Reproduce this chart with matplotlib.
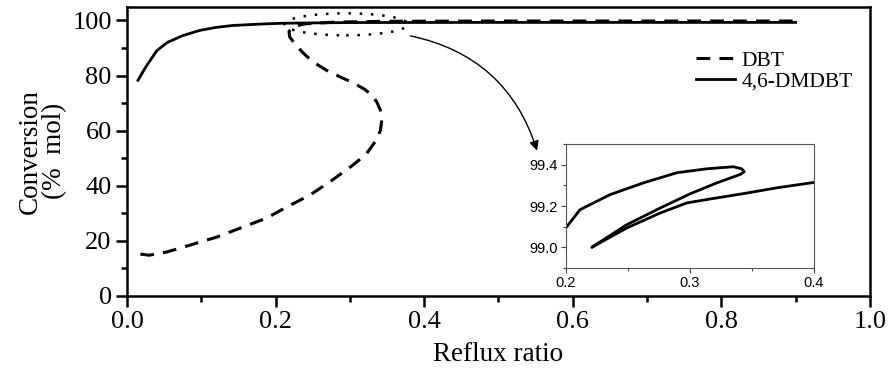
import matplotlib
matplotlib.use('Agg')
import matplotlib.pyplot as plt
from matplotlib.patches import Ellipse
from matplotlib.ticker import MultipleLocator, FormatStrFormatter

# 数据：从原图读取
dbt_x = [0.018, 0.03, 0.054, 0.089, 0.121, 0.152, 0.188, 0.215, 0.246, 0.276,
         0.304, 0.322, 0.334, 0.341, 0.343, 0.341, 0.336, 0.330, 0.320, 0.305,
         0.287, 0.268, 0.250, 0.236, 0.226, 0.219, 0.218, 0.224, 0.240, 0.280,
         0.350, 0.500, 0.900]
dbt_y = [15.2, 14.8, 16.0, 18.8, 21.4, 24.6, 28.3, 32.3, 36.6, 42.0,
         47.5, 51.5, 56.0, 60.0, 64.0, 67.5, 70.5, 72.8, 75.0, 77.3,
         79.5, 82.0, 85.0, 88.5, 91.5, 94.0, 96.0, 97.8, 98.8, 99.4,
         99.7, 99.8, 99.8]

dmdbt_x = [0.0148, 0.025, 0.04, 0.054, 0.075, 0.098, 0.12, 0.143, 0.18, 0.21,
           0.30, 0.50, 0.90]
dmdbt_y = [78.3, 83.0, 89.0, 92.0, 94.5, 96.4, 97.5, 98.2, 98.7, 99.0,
           99.25, 99.3, 99.3]

# 放大图曲线
inset_x = [0.200, 0.2115, 0.2357, 0.2626, 0.2895, 0.3135, 0.335, 0.3419, 0.3438,
           0.3406, 0.3218, 0.3002, 0.276, 0.249, 0.221,
           0.249, 0.276, 0.2976, 0.3164, 0.3432, 0.370, 0.401]
inset_y = [99.093, 99.182, 99.255, 99.312, 99.361, 99.380, 99.390, 99.380, 99.366,
           99.353, 99.312, 99.259, 99.190, 99.109, 99.000,
           99.093, 99.166, 99.215, 99.234, 99.260, 99.288, 99.315]

fig = plt.figure(figsize=(8.9, 3.85), dpi=100)
ax = fig.add_axes([0.1427, 0.2312, 0.8348, 0.7514])

ax.plot(dbt_x, dbt_y, color='black', lw=2.2, dashes=(4.5, 3), label='DBT')
ax.plot(dmdbt_x, dmdbt_y, color='black', lw=2.0, label='4,6-DMDBT')

ax.set_xlim(0, 1.0)
ax.set_ylim(0, 105)
ax.xaxis.set_major_locator(MultipleLocator(0.2))
ax.xaxis.set_minor_locator(MultipleLocator(0.1))
ax.yaxis.set_major_locator(MultipleLocator(20))
ax.yaxis.set_minor_locator(MultipleLocator(10))
ax.xaxis.set_major_formatter(FormatStrFormatter('%.1f'))
ax.tick_params(which='major', direction='out', length=8, width=1.8,
               labelsize=19, top=False, right=False, pad=3)
ax.tick_params(which='minor', direction='out', length=4.5, width=1.8,
               top=False, right=False)
for sp in ax.spines.values():
    sp.set_linewidth(1.8)
for lab in ax.get_xticklabels() + ax.get_yticklabels():
    lab.set_fontfamily('Liberation Serif')

ax.set_xlabel('Reflux ratio', fontsize=19.5, family='Liberation Serif', labelpad=6)
ax.set_ylabel('Conversion\n(%  mol)', fontsize=19.5, family='Liberation Serif',
              linespacing=0.95, labelpad=4)

leg = ax.legend(loc='upper right', bbox_to_anchor=(1.003, 0.915), frameon=False,
                prop={'family': 'Liberation Serif', 'size': 15.5},
                handlelength=1.8, handletextpad=0.3, labelspacing=0.05)

# 虚线椭圆和箭头
ell = Ellipse((0.295, 98.6), 0.166, 8.0, fill=False, ls=(0, (1, 3.5)),
              lw=1.8, color='black')
ax.add_patch(ell)
ax.annotate('', xy=(0.553, 51.8), xytext=(0.378, 94.6),
            arrowprops=dict(arrowstyle='-|>', color='black', lw=1.0,
                            mutation_scale=14,
                            connectionstyle='arc3,rad=-0.3'))

# 放大图
axi = fig.add_axes([0.6356, 0.3039, 0.279, 0.322])
axi.plot(inset_x, inset_y, color='black', lw=2.0, solid_joinstyle='round')
axi.set_xlim(0.2, 0.4)
axi.set_ylim(98.9, 99.5)
axi.xaxis.set_major_locator(MultipleLocator(0.1))
axi.xaxis.set_minor_locator(MultipleLocator(0.05))
axi.yaxis.set_major_locator(MultipleLocator(0.2))
axi.yaxis.set_minor_locator(MultipleLocator(0.1))
axi.yaxis.set_major_formatter(FormatStrFormatter('%.1f'))
axi.xaxis.set_major_formatter(FormatStrFormatter('%.1f'))
axi.tick_params(which='major', direction='out', length=3.5, width=0.8,
                labelsize=10.5, color='#444444', pad=2)
axi.tick_params(which='minor', direction='out', length=2, width=0.8,
                color='#444444')
for sp in axi.spines.values():
    sp.set_linewidth(0.8)
    sp.set_color('#555555')
for lab in axi.get_xticklabels() + axi.get_yticklabels():
    lab.set_fontfamily('Liberation Sans')

fig.savefig('out.png', dpi=100)
